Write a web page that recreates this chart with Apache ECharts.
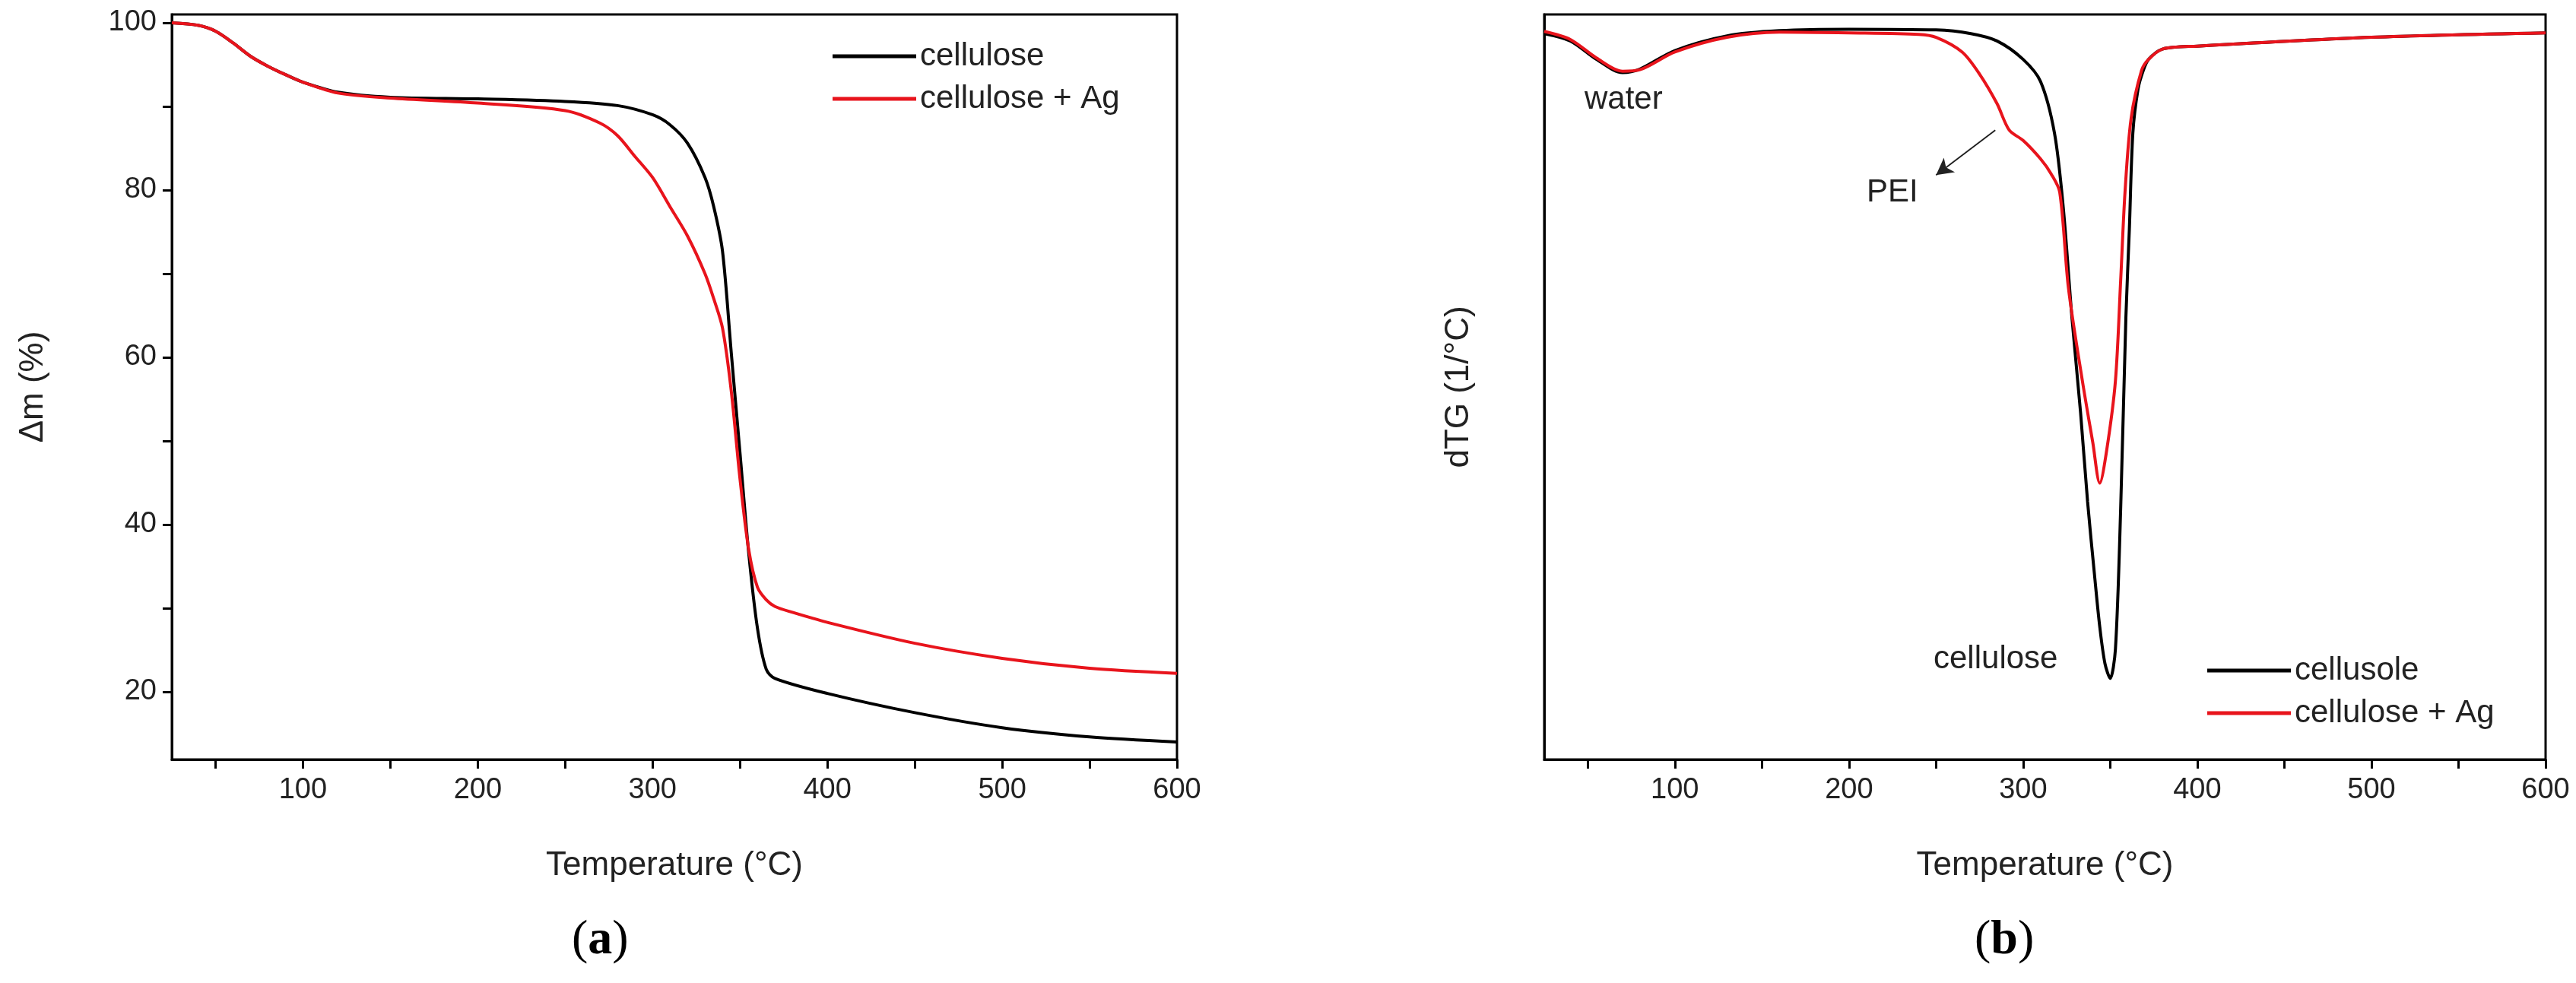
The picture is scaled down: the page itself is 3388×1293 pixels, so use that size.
<!DOCTYPE html>
<html><head><meta charset="utf-8">
<script src="https://cdn.jsdelivr.net/npm/echarts@6/dist/echarts.min.js"></script>
<style>html,body{margin:0;padding:0;background:#fff}#c{width:3388px;height:1293px}</style>
</head><body><div id="c"></div>
<script>
// TG (a)
const tgCellulose = [[25,100],[40,99.7],[50,99],[60,97.6],[70,96],[80,94.8],[90,93.8],[100,92.9],[120,91.7],[150,91.1],[200,90.9],[250,90.6],[280,90.1],[300,89],[310,87.8],[320,85.6],[330,81.5],[335,78],[340,72.7],[345,60.6],[350,48.6],[355,36.6],[360,27.6],[365,22.7],[370,21.6],[400,19.8],[450,17.5],[500,15.7],[550,14.6],[600,14.0]];
const tgCelluloseAg = [[25,100],[40,99.7],[50,99],[60,97.6],[70,96],[80,94.8],[90,93.8],[100,92.9],[120,91.6],[150,91],[200,90.4],[250,89.5],[270,88],[280,86.5],[290,84],[300,81.5],[310,78],[320,74.5],[330,70],[335,67],[340,63.5],[345,56],[350,45.5],[355,37],[360,32.5],[365,31],[370,30.2],[380,29.5],[400,28.3],[450,25.8],[500,24],[550,22.8],[600,22.2]];
// dTG (b), arbitrary units
const dtgCellulose = [[25,-1.5],[40,-2.5],[55,-5],[70,-6.8],[80,-6.3],[100,-3.8],[130,-1.8],[160,-1.1],[200,-0.9],[250,-1],[270,-1.5],[285,-2.5],[300,-5],[310,-8],[318,-15],[323,-25],[328,-40],[333,-53],[337,-65],[341,-75],[344,-82],[347,-87],[350,-89],[353,-85],[356,-66],[359,-40],[361,-28],[363,-15],[366,-9],[369,-6.5],[372,-5],[380,-3.6],[400,-3.2],[500,-2],[600,-1.4]];
const dtgCelluloseAg = [[25,-1.2],[40,-2.3],[55,-4.8],[70,-6.6],[80,-6.4],[100,-4],[130,-2],[160,-1.3],[200,-1.4],[240,-1.6],[250,-2],[265,-4],[275,-7],[285,-11],[292,-14.6],[300,-16],[310,-18.5],[316,-20.5],[321,-23],[326,-36],[334,-48.6],[340,-57],[344,-62.5],[348,-58],[353,-48.6],[356,-35],[358.5,-23],[362,-13],[368,-6.5],[372,-5],[380,-3.6],[400,-3.2],[500,-2],[600,-1.4]];
const xTicks = [100,200,300,400,500,600];
const yTicks = [20,40,60,80,100];

const font = 'Liberation Sans';
const chart = echarts.init(document.getElementById('c'));
const xAx = (gi) => ({
  type:'value', gridIndex:gi, min:25, max:600,
  name:'Temperature (°C)', nameLocation:'middle', nameGap:118,
  nameTextStyle:{fontFamily:font,fontSize:44,color:'#222'},
  axisLine:{onZero:false,lineStyle:{color:'#000',width:3}},
  axisTick:{show:true,inside:false,length:12,lineStyle:{width:3,color:'#000'},customValues:[50,100,150,200,250,300,350,400,450,500,550,600]},
  axisLabel:{fontFamily:font,fontSize:38,color:'#222',margin:22,customValues:xTicks},
  splitLine:{show:false}
});
chart.setOption({
  animation:false,
  grid:[
    {left:226,top:19,width:1322,height:980,show:true,borderColor:'#000',borderWidth:3},
    {left:2031,top:19,width:1317,height:980,show:true,borderColor:'#000',borderWidth:3}
  ],
  legend:[
    {data:['cellulose','cellulose + Ag'],orient:'vertical',left:1090,top:48,itemWidth:110,itemHeight:5,icon:'rect',itemGap:14,
     textStyle:{fontFamily:font,fontSize:42,color:'#222'}},
    {data:['cellusole','cellulose + Ag'],orient:'vertical',left:2898,top:856,itemWidth:110,itemHeight:5,icon:'rect',itemGap:14,
     textStyle:{fontFamily:font,fontSize:42,color:'#222'}}
  ],
  xAxis:[xAx(0),xAx(1)],
  yAxis:[
    {type:'value',gridIndex:0,min:11.9,max:101,name:'Δm (%)',nameLocation:'middle',nameGap:160,
     nameTextStyle:{fontFamily:font,fontSize:44,color:'#222'},
     axisLine:{onZero:false,lineStyle:{color:'#000',width:3}},
     axisTick:{show:true,length:12,lineStyle:{width:3,color:'#000'},customValues:[20,30,40,50,60,70,80,90,100]},
     axisLabel:{fontFamily:font,fontSize:38,color:'#222',margin:20,customValues:yTicks},
     splitLine:{show:false}},
    {type:'value',gridIndex:1,min:-100,max:1.1,name:'dTG (1/°C)',nameLocation:'middle',nameGap:90,
     nameTextStyle:{fontFamily:font,fontSize:44,color:'#222'},
     axisLine:{onZero:false,lineStyle:{color:'#000',width:3}},axisTick:{show:false},axisLabel:{show:false},splitLine:{show:false}}
  ],
  series:[
    {name:'cellulose',type:'line',xAxisIndex:0,yAxisIndex:0,data:tgCellulose,smooth:0.3,showSymbol:false,lineStyle:{color:'#000',width:4},itemStyle:{color:'#000'}},
    {name:'cellulose + Ag',type:'line',xAxisIndex:0,yAxisIndex:0,data:tgCelluloseAg,smooth:0.3,showSymbol:false,lineStyle:{color:'#e8141c',width:4},itemStyle:{color:'#e8141c'}},
    {name:'cellusole',type:'line',xAxisIndex:1,yAxisIndex:1,data:dtgCellulose,smooth:0.3,showSymbol:false,lineStyle:{color:'#000',width:4},itemStyle:{color:'#000'}},
    {name:'cellulose + Ag',type:'line',xAxisIndex:1,yAxisIndex:1,data:dtgCelluloseAg,smooth:0.3,showSymbol:false,lineStyle:{color:'#e8141c',width:4},itemStyle:{color:'#e8141c'},
     markLine:{silent:true,symbol:['none','arrow'],symbolSize:[18,22],label:{show:false},lineStyle:{color:'#222',width:2,type:'solid'},
       data:[[{coord:[284,-14.6]},{coord:[250,-20.7]}]]}}
  ],
  graphic:[
    {type:'text',left:2084,top:110,style:{text:'water',font:'42px "Liberation Sans"',fill:'#222'}},
    {type:'text',left:2455,top:232,style:{text:'PEI',font:'42px "Liberation Sans"',fill:'#222'}},
    {type:'text',left:2543,top:846,style:{text:'cellulose',font:'42px "Liberation Sans"',fill:'#222'}},
    {type:'text',left:752,top:1205,style:{text:'({b|a})',font:'64px "Liberation Serif"',fill:'#000',rich:{b:{font:'bold 64px "Liberation Serif"',fill:'#000'}}}},
    {type:'text',left:2597,top:1205,style:{text:'({b|b})',font:'64px "Liberation Serif"',fill:'#000',rich:{b:{font:'bold 64px "Liberation Serif"',fill:'#000'}}}}
  ]
});
</script></body></html>
